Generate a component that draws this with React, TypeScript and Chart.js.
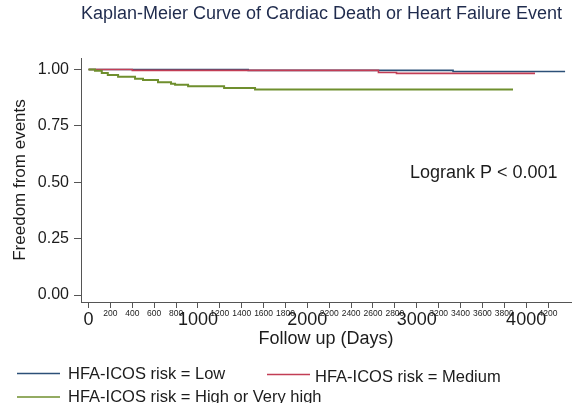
import React, { useEffect, useRef } from 'react';
import { Chart, registerables } from 'chart.js';

Chart.register(...registerables);

const TITLE = 'Kaplan-Meier Curve of Cardiac Death or Heart Failure Event';
const X_TITLE = 'Follow up (Days)';
const Y_TITLE = 'Freedom from events';
const ANNOTATION = 'Logrank P < 0.001';

const SERIES_LABELS = [
  'HFA-ICOS risk = Low',
  'HFA-ICOS risk = Medium',
  'HFA-ICOS risk = High or Very high',
];

const lowDays = [0, 1459, 3332, 4356];
const lowSurv = [1.0, 0.996, 0.991, 0.991];

const mediumDays = [0, 400, 2650, 2815, 4081];
const mediumSurv = [1.0, 0.996, 0.987, 0.983, 0.983];

const highDays = [0, 59, 121, 176, 270, 425, 498, 635, 754, 791, 910, 1239, 1522, 3880];
const highSurv = [1.0, 0.994, 0.985, 0.976, 0.968, 0.959, 0.953, 0.944, 0.937, 0.932, 0.926, 0.918, 0.911, 0.911];

const xTickValues = [0, 200, 400, 600, 800, 1000, 1200, 1400, 1600, 1800, 2000, 2200, 2400, 2600, 2800, 3000, 3200, 3400, 3600, 3800, 4000, 4200];
const xMajorStep = 1000;
const yTickValues = [0, 0.25, 0.5, 0.75, 1];

const COLORS = ['#2c5078', '#c23d55', '#6f8f2e'];
const FONT = '"Liberation Sans", Arial, Helvetica, sans-serif';
const TEXT_COLOR = '#1c1c1c';
const AXIS_COLOR = '#555555';

const toPoints = (xs: number[], ys: number[]) => xs.map((x, i) => ({ x, y: ys[i] }));

const overlayPlugin = {
  id: 'overlay',
  afterDraw(chart: any) {
    const ctx = chart.ctx as CanvasRenderingContext2D;
    const area = chart.chartArea;
    ctx.save();
    // Title
    ctx.fillStyle = '#1f2b4d';
    ctx.font = `18px ${FONT}`;
    ctx.textAlign = 'center';
    ctx.textBaseline = 'alphabetic';
    ctx.fillText(TITLE, 321.5, 19);

    // x axis title
    ctx.fillStyle = TEXT_COLOR;
    ctx.font = `18px ${FONT}`;
    ctx.fillText(X_TITLE, (area.left + area.right) / 2, 344);

    // y axis title
    ctx.save();
    ctx.translate(20, (area.top + area.bottom) / 2);
    ctx.rotate(-Math.PI / 2);
    ctx.textBaseline = 'middle';
    ctx.font = `17px ${FONT}`;
    ctx.fillText(Y_TITLE, 0, 0);
    ctx.restore();

    // annotation
    ctx.textAlign = 'left';
    ctx.font = `18px ${FONT}`;
    ctx.fillText(ANNOTATION, 410, 178);

    // legend
    const items = [
      { x: 17, y: 373.5, tx: 68, ty: 379 },
      { x: 267, y: 374.5, tx: 315, ty: 382 },
      { x: 17, y: 397, tx: 68, ty: 402 },
    ];
    ctx.font = `16.5px ${FONT}`;
    chart.data.datasets.forEach((ds: any, i: number) => {
      const it = items[i];
      ctx.strokeStyle = ds.borderColor;
      ctx.lineWidth = 1.5;
      ctx.beginPath();
      ctx.moveTo(it.x, it.y);
      ctx.lineTo(it.x + 43, it.y);
      ctx.stroke();
      ctx.fillStyle = TEXT_COLOR;
      ctx.fillText(ds.label, it.tx, it.ty);
    });
    ctx.restore();
  },
};

export default function App() {
  const ref = useRef<HTMLCanvasElement>(null);

  useEffect(() => {
    if (!ref.current) return;
    const chart = new Chart(ref.current, {
      type: 'line',
      data: {
        datasets: [
          {
            label: SERIES_LABELS[0],
            data: toPoints(lowDays, lowSurv),
            borderColor: COLORS[0],
            borderWidth: 1.6,
            stepped: 'before',
            pointRadius: 0,
            order: 2,
          },
          {
            label: SERIES_LABELS[1],
            data: toPoints(mediumDays, mediumSurv),
            borderColor: COLORS[1],
            borderWidth: 1.6,
            stepped: 'before',
            pointRadius: 0,
            order: 1,
          },
          {
            label: SERIES_LABELS[2],
            data: toPoints(highDays, highSurv),
            borderColor: COLORS[2],
            borderWidth: 2,
            stepped: 'before',
            pointRadius: 0,
            order: 0,
          },
        ],
      },
      options: {
        animation: false,
        responsive: true,
        maintainAspectRatio: false,
        layout: { padding: { top: 58, right: 1, left: 0, bottom: 0 } },
        plugins: {
          legend: { display: false },
          title: { display: false },
          tooltip: { enabled: false },
        },
        scales: {
          x: {
            type: 'linear',
            min: -69,
            max: 4410,
            afterBuildTicks: (scale: any) => {
              scale.ticks = xTickValues.map((v) => ({ value: v }));
            },
            afterFit: (scale: any) => {
              scale.height = 101;
            },
            border: { display: true, color: AXIS_COLOR, width: 1 },
            grid: { display: true, drawOnChartArea: false, drawTicks: true, tickLength: 6, color: AXIS_COLOR },
            ticks: {
              autoSkip: false,
              maxRotation: 0,
              minRotation: 0,
              padding: 1,
              color: TEXT_COLOR,
              font: (c: any) =>
                c.tick && c.tick.value % xMajorStep === 0
                  ? { family: FONT, size: 18 }
                  : { family: FONT, size: 8.5 },
              callback: (v: any) => String(v),
            },
          },
          y: {
            type: 'linear',
            min: -0.031,
            max: 1.051,
            afterBuildTicks: (scale: any) => {
              scale.ticks = yTickValues.map((v) => ({ value: v }));
            },
            afterFit: (scale: any) => {
              scale.width = 81;
            },
            border: { display: true, color: AXIS_COLOR, width: 1 },
            grid: { display: true, drawOnChartArea: false, drawTicks: true, tickLength: 7, color: AXIS_COLOR },
            ticks: {
              padding: 5,
              color: TEXT_COLOR,
              font: { family: FONT, size: 16 },
              callback: (v: any) => Number(v).toFixed(2),
            },
          },
        },
      },
      plugins: [overlayPlugin],
    });
    return () => chart.destroy();
  }, []);

  return (
    <div style={{ position: 'fixed', left: 0, top: 0, width: 572, height: 403, background: '#ffffff' }}>
      <canvas ref={ref} />
    </div>
  );
}
